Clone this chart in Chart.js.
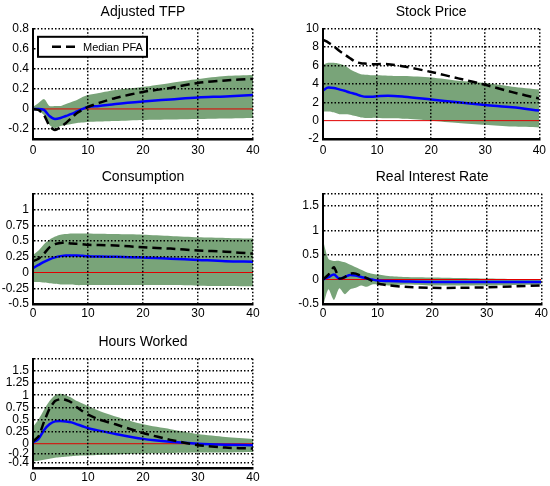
<!DOCTYPE html>
<html>
<head>
<meta charset="utf-8">
<script src="https://cdn.jsdelivr.net/npm/chart.js@4.4.1/dist/chart.umd.min.js"></script>
<style>
html, body { margin: 0; padding: 0; background: #fff; overflow: hidden; }
#page { position: relative; width: 550px; height: 486px; }
#page canvas { position: absolute; }
</style>
</head>
<body>
<div id="page">
  <canvas id="tfp" width="275" height="160" style="left:0;top:0"></canvas>
  <canvas id="stock" width="260" height="160" style="left:290px;top:0"></canvas>
  <canvas id="cons" width="275" height="160" style="left:0;top:165px"></canvas>
  <canvas id="rate" width="260" height="160" style="left:290px;top:165px"></canvas>
  <canvas id="hours" width="275" height="156" style="left:0;top:330px"></canvas>
</div>
<script>
const HORIZON = [0, 1, 2, 3, 4, 5, 6, 7, 8, 9, 10, 12, 15, 20, 25, 30, 35, 40];
const X_TICKS = [0, 10, 20, 30, 40];

// Adjusted TFP
const TFP_UPPER  = [0.02, 0.06, 0.10, 0.03, 0.03, 0.03, 0.05, 0.07, 0.09, 0.12, 0.14, 0.16, 0.19, 0.22, 0.26, 0.30, 0.33, 0.34];
const TFP_LOWER  = [-0.01, -0.02, -0.06, -0.16, -0.19, -0.17, -0.16, -0.15, -0.14, -0.135, -0.13, -0.125, -0.12, -0.11, -0.105, -0.10, -0.095, -0.09];
const TFP_MEDIAN = [0, 0, -0.01, -0.07, -0.10, -0.09, -0.07, -0.05, -0.025, 0, 0.02, 0.03, 0.05, 0.075, 0.095, 0.115, 0.125, 0.14];
const TFP_PFA    = [0, -0.01, -0.06, -0.17, -0.21, -0.18, -0.14, -0.09, -0.04, -0.01, 0.02, 0.06, 0.11, 0.17, 0.21, 0.26, 0.285, 0.30];
const TFP_TICKS  = [-0.2, 0, 0.2, 0.4, 0.6, 0.8];
const TFP_LABELS = ['-0.2', '0', '0.2', '0.4', '0.6', '0.8'];

// Stock Price
const STOCK_UPPER  = [6.1, 6.3, 6.3, 6.2, 6.0, 5.6, 5.3, 5.05, 5.0, 4.95, 4.95, 4.9, 4.85, 4.7, 4.35, 4.1, 3.7, 3.4];
const STOCK_LOWER  = [1.0, 1.0, 0.9, 0.7, 0.7, 0.65, 0.5, 0.35, 0.3, 0.3, 0.3, 0.25, 0.2, 0.0, -0.25, -0.45, -0.65, -0.75];
const STOCK_MEDIAN = [3.3, 3.6, 3.55, 3.4, 3.25, 3.05, 2.9, 2.7, 2.6, 2.6, 2.65, 2.7, 2.6, 2.3, 2.0, 1.7, 1.45, 1.1];
const STOCK_PFA    = [8.8, 8.5, 8.1, 7.6, 7.2, 6.8, 6.4, 6.25, 6.2, 6.15, 6.15, 6.15, 5.9, 5.3, 4.6, 3.9, 3.1, 2.4];
const STOCK_TICKS  = [-2, 0, 2, 4, 6, 8, 10];
const STOCK_LABELS = ['-2', '0', '2', '4', '6', '8', '10'];

// Consumption
const CONS_UPPER  = [0.28, 0.35, 0.45, 0.52, 0.57, 0.60, 0.61, 0.62, 0.62, 0.62, 0.62, 0.615, 0.61, 0.60, 0.58, 0.56, 0.55, 0.54];
const CONS_LOWER  = [-0.15, -0.15, -0.16, -0.17, -0.18, -0.19, -0.19, -0.19, -0.2, -0.2, -0.2, -0.2, -0.2, -0.2, -0.2, -0.21, -0.215, -0.22];
const CONS_MEDIAN = [0.07, 0.12, 0.17, 0.21, 0.24, 0.26, 0.27, 0.27, 0.27, 0.265, 0.26, 0.255, 0.25, 0.24, 0.22, 0.20, 0.18, 0.17];
const CONS_PFA    = [0.18, 0.22, 0.30, 0.40, 0.45, 0.47, 0.47, 0.46, 0.455, 0.45, 0.44, 0.435, 0.43, 0.40, 0.38, 0.35, 0.33, 0.30];
const CONS_TICKS  = [-0.5, -0.25, 0, 0.25, 0.5, 0.75, 1, 1.25];
const CONS_LABELS = ['-0.5', '-0.25', '0', '0.25', '0.5', '0.75', '1', ''];

// Real Interest Rate
const RATE_UPPER  = [0.8, 0.42, 0.38, 0.38, 0.35, 0.30, 0.25, 0.2, 0.15, 0.12, 0.1, 0.07, 0.05, 0.04, 0.03, 0.02, 0.01, 0.0];
const RATE_LOWER  = [-0.55, -0.2, -0.42, -0.18, -0.3, -0.2, -0.17, -0.12, -0.15, -0.1, -0.1, -0.12, -0.1, -0.12, -0.12, -0.12, -0.11, -0.1];
const RATE_MEDIAN = [0, 0.05, 0.1, 0.02, 0.05, 0.09, 0.08, 0.05, 0.02, 0, -0.02, -0.03, -0.04, -0.05, -0.05, -0.05, -0.05, -0.05];
const RATE_PFA    = [0, 0.1, 0.25, 0.02, 0.05, 0.12, 0.12, 0.07, 0.03, -0.03, -0.08, -0.12, -0.15, -0.17, -0.17, -0.16, -0.14, -0.12];
const RATE_TICKS  = [-0.5, 0, 0.5, 1, 1.5, 1.75];
const RATE_LABELS = ['-0.5', '0', '0.5', '1', '1.5', ''];

// Hours Worked
const HOURS_UPPER  = [0.35, 0.5, 0.7, 0.88, 1.0, 1.03, 1.0, 0.95, 0.88, 0.83, 0.78, 0.68, 0.56, 0.4, 0.3, 0.2, 0.14, 0.1];
const HOURS_LOWER  = [-0.36, -0.35, -0.33, -0.31, -0.29, -0.28, -0.27, -0.26, -0.25, -0.245, -0.24, -0.23, -0.22, -0.2, -0.19, -0.18, -0.18, -0.17];
const HOURS_MEDIAN = [0.03, 0.1, 0.28, 0.4, 0.46, 0.47, 0.46, 0.44, 0.4, 0.36, 0.32, 0.27, 0.2, 0.1, 0.04, 0.0, -0.02, -0.03];
const HOURS_PFA    = [0.05, 0.15, 0.45, 0.72, 0.88, 0.92, 0.9, 0.85, 0.75, 0.67, 0.6, 0.5, 0.4, 0.22, 0.08, -0.03, -0.08, -0.1];
const HOURS_TICKS  = [-0.4, -0.2, 0, 0.25, 0.5, 0.75, 1, 1.25, 1.5, 1.75];
const HOURS_LABELS = ['-0.4', '-0.2', '0', '0.25', '0.5', '0.75', '1', '1.25', '1.5', ''];

const FONT = '"Liberation Sans", Arial, sans-serif';
const BAND_COLOR = '#79a479';

const pts = (ys) => HORIZON.map((x, i) => ({ x: x, y: ys[i] }));

// Legend box drawn inside the first panel's plot area
const insideLegend = {
    id: 'insideLegend',
    afterDraw(chart) {
        const ds = chart.data.datasets.find(d => d.showInLegend);
        if (!ds) return;
        const { ctx, chartArea } = chart;
        const x = chartArea.left + 5, y = chartArea.top + 8, w = 109, h = 20;
        ctx.save();
        ctx.fillStyle = '#fff';
        ctx.fillRect(x, y, w, h);
        ctx.lineWidth = 2;
        ctx.strokeStyle = '#000';
        ctx.strokeRect(x, y, w, h);
        ctx.beginPath();
        ctx.setLineDash([9, 5]);
        ctx.lineWidth = 2.5;
        ctx.moveTo(x + 14, y + h / 2);
        ctx.lineTo(x + 42, y + h / 2);
        ctx.stroke();
        ctx.setLineDash([]);
        ctx.fillStyle = '#000';
        ctx.font = '11px ' + FONT;
        ctx.textBaseline = 'middle';
        ctx.fillText(ds.label, x + 45, y + h / 2 + 1);
        ctx.restore();
    }
};

function makePanel(canvasId, opt) {
    const datasets = [
        { label: 'lower', data: pts(opt.lower), borderWidth: 0, pointRadius: 0, fill: false, tension: 0.25, order: 4 },
        { label: 'upper', data: pts(opt.upper), borderWidth: 0, pointRadius: 0, fill: '-1',
          backgroundColor: BAND_COLOR, tension: 0.25, order: 3 },
        { label: 'zero', data: [{ x: 0, y: 0 }, { x: 40, y: 0 }], borderColor: '#e00000', borderWidth: 1,
          pointRadius: 0, order: 2 },
        { label: 'Median', data: pts(opt.median), borderColor: '#0000ff', borderWidth: 2.5, pointRadius: 0,
          tension: 0.3, cubicInterpolationMode: 'monotone', order: 1 },
        { label: 'Median PFA', data: pts(opt.pfa), borderColor: '#000', borderWidth: 2.5, borderDash: [9, 5],
          pointRadius: 0, tension: 0.2, order: 0, showInLegend: !!opt.legend }
    ];

    // grid dots sit on top of the band; border and labels must come after the grid layer
    const gridDots = { color: '#000', lineWidth: 1.5, drawTicks: false, z: 1 };

    return new Chart(document.getElementById(canvasId), {
        type: 'line',
        data: { datasets: datasets },
        options: {
            responsive: false,
            animation: false,
            layout: { padding: { right: opt.padRight, top: 0, bottom: 0, left: 0 } },
            plugins: {
                legend: { display: false },
                tooltip: { enabled: false },
                title: {
                    display: true,
                    text: opt.title,
                    fullSize: false,
                    color: '#000',
                    font: { family: FONT, size: 14, weight: 'normal' },
                    padding: { top: 4, bottom: 8 }
                }
            },
            scales: {
                x: {
                    type: 'linear',
                    min: 0,
                    max: 40,
                    afterBuildTicks: axis => { axis.ticks = X_TICKS.map(v => ({ value: v })); },
                    afterFit: axis => { axis.height = opt.xHeight; },
                    grid: gridDots,
                    border: { display: true, color: '#000', width: 2.5, dash: [1.5, 2], z: 2 },
                    ticks: { color: '#000', padding: opt.xPad, maxRotation: 0, autoSkip: false, z: 2,
                             font: { family: FONT, size: 12 }, callback: v => String(v) }
                },
                y: {
                    min: opt.min,
                    max: opt.max,
                    afterBuildTicks: axis => { axis.ticks = opt.ticks.map(v => ({ value: v })); },
                    afterFit: axis => { axis.width = 33; },
                    grid: {
                        ...gridDots,
                        color: ctx => (ctx.tick && ctx.tick.value === 0 ? 'rgba(0,0,0,0)' : '#000')
                    },
                    border: { display: true, color: '#000', width: 2, dash: [1.5, 2], z: 2 },
                    ticks: {
                        color: '#000',
                        padding: 4,
                        autoSkip: false,
                        z: 2,
                        font: { family: FONT, size: 12 },
                        callback: (v) => {
                            const i = opt.ticks.indexOf(v);
                            return i >= 0 ? opt.labels[i] : '';
                        }
                    }
                }
            }
        },
        plugins: opt.legend ? [insideLegend] : []
    });
}

makePanel('tfp', { title: 'Adjusted TFP', min: -0.3, max: 0.8, ticks: TFP_TICKS, labels: TFP_LABELS,
    upper: TFP_UPPER, lower: TFP_LOWER, median: TFP_MEDIAN, pfa: TFP_PFA,
    padRight: 22, xHeight: 21, xPad: 4, legend: true });
makePanel('stock', { title: 'Stock Price', min: -2, max: 10, ticks: STOCK_TICKS, labels: STOCK_LABELS,
    upper: STOCK_UPPER, lower: STOCK_LOWER, median: STOCK_MEDIAN, pfa: STOCK_PFA,
    padRight: 7, xHeight: 21, xPad: 4 });
makePanel('cons', { title: 'Consumption', min: -0.5, max: 1.25, ticks: CONS_TICKS, labels: CONS_LABELS,
    upper: CONS_UPPER, lower: CONS_LOWER, median: CONS_MEDIAN, pfa: CONS_PFA,
    padRight: 22, xHeight: 21, xPad: 2 });
makePanel('rate', { title: 'Real Interest Rate', min: -0.5, max: 1.75, ticks: RATE_TICKS, labels: RATE_LABELS,
    upper: RATE_UPPER, lower: RATE_LOWER, median: RATE_MEDIAN, pfa: RATE_PFA,
    padRight: 7, xHeight: 21, xPad: 2 });
makePanel('hours', { title: 'Hours Worked', min: -0.5, max: 1.75, ticks: HOURS_TICKS, labels: HOURS_LABELS,
    upper: HOURS_UPPER, lower: HOURS_LOWER, median: HOURS_MEDIAN, pfa: HOURS_PFA,
    padRight: 22, xHeight: 18, xPad: 2 });
</script>
</body>
</html>
